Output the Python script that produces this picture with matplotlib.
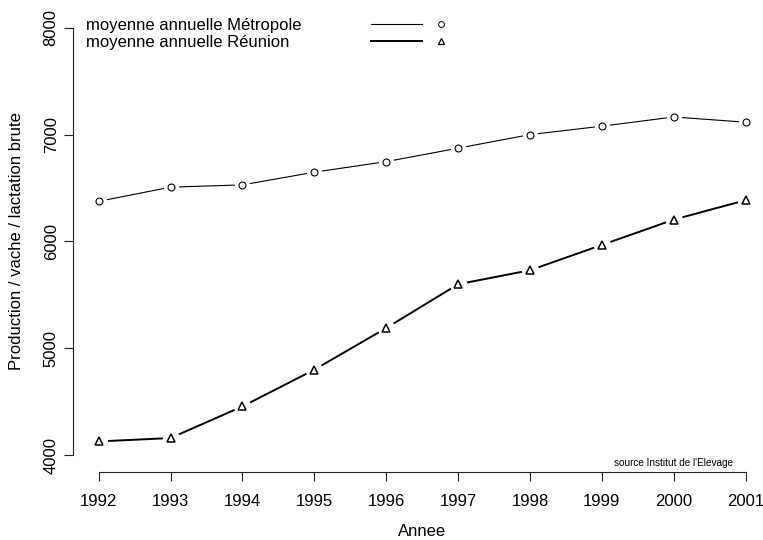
import matplotlib
matplotlib.use("Agg")
import matplotlib.pyplot as plt
from matplotlib.lines import Line2D
from matplotlib.legend_handler import HandlerBase

# donnees
annees = [1992, 1993, 1994, 1995, 1996, 1997, 1998, 1999, 2000, 2001]
metropole = [6375, 6508, 6529, 6648, 6747, 6873, 7000, 7079, 7165, 7116]
reunion = [4127, 4159, 4455, 4799, 5189, 5599, 5730, 5967, 6204, 6386]
noms = ["moyenne annuelle Métropole", "moyenne annuelle Réunion"]
yticks = [4000, 5000, 6000, 7000, 8000]

plt.rcParams['font.family'] = ['Liberation Sans', 'DejaVu Sans']

fig = plt.figure(figsize=(7.63, 5.40), dpi=100)
W, H = 763, 540
# zone de trace comme en R (ylim 4000-8000 + 4 %)
ax = fig.add_axes([72.8 / W, 1 - 472.1 / H, 698.8 / W, 461.4 / H])
ax.set_xlim(annees[0] - 0.04 * (annees[-1] - annees[0]), annees[-1] + 0.04 * (annees[-1] - annees[0]))
ax.set_ylim(yticks[0] - 0.04 * (yticks[-1] - yticks[0]), yticks[-1] + 0.04 * (yticks[-1] - yticks[0]))

# type="b" : ligne coupee autour des points
ax.plot(annees, metropole, color='black', lw=0.8, zorder=2)
ax.plot(annees, metropole, ls='none', marker='o', ms=11, mfc='white', mec='none', zorder=3)
ax.plot(annees, metropole, ls='none', marker='o', ms=5, mfc='white', mec='black', mew=0.8, zorder=4)

ax.plot(annees, reunion, color='black', lw=1.4, zorder=2)
ax.plot(annees, reunion, ls='none', marker='o', ms=12.5, mfc='white', mec='none', zorder=3)
ax.plot(annees, reunion, ls='none', marker='^', ms=5.8, mfc='white', mec='black', mew=1.1, zorder=4)

# axes facon bty="n"
for s in ['top', 'right']:
    ax.spines[s].set_visible(False)
ax.spines['left'].set_bounds(yticks[0], yticks[-1])
ax.spines['bottom'].set_bounds(annees[0], annees[-1])
for s in ['left', 'bottom']:
    ax.spines[s].set_linewidth(0.8)
    ax.spines[s].set_color('#222222')

ax.set_xticks(annees)
ax.set_xticklabels([str(a) for a in annees])
ax.set_yticks(yticks)
ax.set_yticklabels([str(v) for v in yticks], rotation=90, va='center')
ax.tick_params(axis='both', direction='out', length=6.7, width=0.8, color='#222222', labelsize=12)
ax.tick_params(axis='x', pad=8.9)
ax.tick_params(axis='y', pad=3.5)

ax.set_xlabel("Annee", fontsize=12, labelpad=11.3)
ax.set_ylabel("Production / vache / lactation brute", fontsize=12, va='center')
ax.yaxis.set_label_coords((17 - 72.8) / 698.8, 0.5)

ax.text(2000, 3928, "source Institut de l'Elevage", fontsize=7.2, ha='center', va='center')


# legende : texte a gauche, trait puis symbole a droite
class TraitPuisSymbole(HandlerBase):
    def __init__(self, lw, marker, ms, mew):
        super().__init__()
        self.lw, self.marker, self.ms, self.mew = lw, marker, ms, mew

    def create_artists(self, legend, orig_handle, xdescent, ydescent, width, height, fontsize, trans):
        y = (height - ydescent) / 2
        trait = Line2D([-xdescent, -xdescent + 0.69 * width], [y, y], color='black', lw=self.lw, transform=trans)
        symb = Line2D([-xdescent + 0.953 * width], [y], ls='none', marker=self.marker, ms=self.ms,
                      mfc='white', mec='black', mew=self.mew, transform=trans)
        return [trait, symb]


opts = dict(frameon=False, fontsize=12, borderpad=0, borderaxespad=0, handleheight=1.4,
            labelspacing=-0.14, loc='upper left', bbox_transform=fig.transFigure)

vide = [Line2D([], [], alpha=0), Line2D([], [], alpha=0)]
leg1 = ax.legend(vide, noms, handlelength=0, handletextpad=0,
                 bbox_to_anchor=(86.5 / W, 1 - 15 / H), **opts)
ax.add_artist(leg1)

h1 = Line2D([], [])
h2 = Line2D([], [])
ax.legend([h1, h2], ["", ""], handlelength=4.44, handletextpad=0,
          handler_map={h1: TraitPuisSymbole(0.8, 'o', 4.2, 0.7), h2: TraitPuisSymbole(1.4, '^', 4.8, 0.9)},
          bbox_to_anchor=(370.5 / W, 1 - 16.4 / H), **opts)

fig.savefig("out.png", dpi=100)
